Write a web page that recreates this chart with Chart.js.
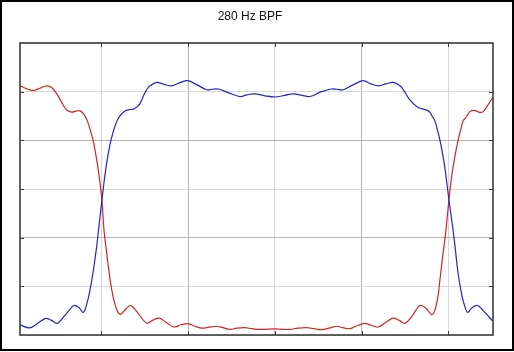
<!DOCTYPE html>
<html>
<head>
<meta charset="utf-8">
<script src="https://cdn.jsdelivr.net/npm/chart.js@4.4.1/dist/chart.umd.min.js"></script>
<style>
  html, body { margin: 0; padding: 0; background: #fff; }
  #box { position: absolute; left: 0; top: 0; width: 514px; height: 351px; border: 2px solid #000; box-sizing: border-box; }
  #box canvas { display: block; }
</style>
</head>
<body>
<div id="box"><canvas id="bpf" width="510" height="347"></canvas></div>
<script>
// frequency axis (Hz) and gain readings for the band-pass output (blue)
const passFreq = [133.2, 138.6, 143.0, 148.0, 151.1, 154.7, 159.1, 164.3, 167.2, 169.7, 171.8, 173.5, 175.3, 177.4, 178.7,
  180.4, 182.7, 185.0, 186.9, 189.1, 190.8, 193.7, 196.0, 198.5, 200.6, 202.3, 204.6, 206.2, 208.1, 211.9, 216.1, 220.6,
  225.4, 229.8, 235.2, 240.7, 243.8, 247.4, 253.6, 259.9, 264.0, 268.6, 274.3, 280.3, 285.8, 290.6, 295.6, 300.2, 306.6,
  312.7, 315.8, 319.4, 325.0, 330.9, 335.4, 339.6, 344.0, 348.2, 352.1, 354.4, 357.8, 361.9, 365.5, 367.6, 369.4, 370.5,
  372.2, 374.0, 375.7, 378.0, 380.3, 382.4, 383.8, 385.5, 387.2, 388.9, 391.1, 393.6, 396.8, 401.0, 405.7];
const passGain = [0.042, 0.029, 0.046, 0.068, 0.061, 0.048, 0.081, 0.121, 0.112, 0.093, 0.131, 0.184, 0.258, 0.365, 0.448,
  0.555, 0.686, 0.781, 0.835, 0.880, 0.901, 0.921, 0.926, 0.928, 0.938, 0.950, 0.987, 1.008, 1.024, 1.038, 1.030, 1.024,
  1.037, 1.045, 1.028, 1.008, 1.010, 1.011, 0.995, 0.980, 0.987, 0.991, 0.983, 0.978, 0.985, 0.991, 0.985, 0.980, 0.999,
  1.011, 1.010, 1.008, 1.028, 1.045, 1.032, 1.024, 1.032, 1.038, 1.024, 1.004, 0.966, 0.938, 0.928, 0.924, 0.915, 0.901,
  0.880, 0.835, 0.781, 0.686, 0.555, 0.448, 0.365, 0.258, 0.184, 0.131, 0.093, 0.112, 0.121, 0.093, 0.056];

// complementary (band-stop) output (red)
const stopFreq = [133.2, 134.8, 137.8, 140.9, 144.7, 148.6, 151.6, 155.1, 158.0, 160.1, 163.0, 165.5, 167.8, 170.1, 172.0,
  173.5, 175.4, 177.0, 178.7, 180.4, 181.6, 183.3, 185.0, 186.9, 189.1, 191.2, 194.3, 197.1, 201.7, 206.2, 209.8, 213.4,
  217.3, 221.9, 225.9, 229.8, 234.0, 238.2, 242.1, 246.5, 250.1, 254.2, 258.2, 262.8, 266.8, 271.4, 276.0, 280.3, 284.7,
  288.7, 293.3, 298.3, 302.5, 307.0, 311.2, 315.6, 319.2, 323.3, 327.3, 331.9, 335.4, 339.6, 344.0, 348.2, 351.5, 355.0,
  359.0, 363.6, 367.1, 370.3, 372.2, 374.0, 375.1, 376.8, 378.6, 380.3, 382.0, 383.8, 385.5, 387.2, 388.5, 390.5, 392.4,
  394.7, 398.2, 400.1, 402.8, 405.7];
const stopGain = [1.023, 1.019, 1.010, 1.005, 1.014, 1.024, 1.016, 0.983, 0.946, 0.925, 0.916, 0.920, 0.921, 0.907, 0.880,
  0.847, 0.798, 0.736, 0.658, 0.555, 0.431, 0.328, 0.233, 0.156, 0.102, 0.085, 0.108, 0.121, 0.085, 0.049, 0.061, 0.069,
  0.052, 0.033, 0.042, 0.047, 0.036, 0.028, 0.032, 0.036, 0.030, 0.023, 0.028, 0.030, 0.026, 0.023, 0.024, 0.025, 0.023,
  0.023, 0.028, 0.030, 0.026, 0.022, 0.028, 0.036, 0.030, 0.026, 0.038, 0.048, 0.040, 0.033, 0.052, 0.069, 0.061, 0.048,
  0.077, 0.121, 0.110, 0.084, 0.102, 0.159, 0.225, 0.328, 0.431, 0.555, 0.658, 0.736, 0.798, 0.847, 0.880, 0.898, 0.918,
  0.923, 0.915, 0.918, 0.946, 0.977];

// grid positions
const freqTicks = [180, 230, 280, 330, 380];
const gainTicks = [0, 0.2, 0.4, 0.6, 0.8, 1.0, 1.2];

function pairUp(xs, ys) {
  return xs.map((x, i) => ({ x: x, y: ys[i] }));
}

// frame and small inward tick marks, like the original plot
const frameTicks = {
  id: 'frameTicks',
  afterDraw(chart) {
    const { ctx, chartArea: a, scales } = chart;
    ctx.save();
    ctx.strokeStyle = '#3a3a3a';
    ctx.lineWidth = 1;
    ctx.beginPath();
    freqTicks.forEach(v => {
      const px = Math.round(scales.x.getPixelForValue(v)) + 0.5;
      ctx.moveTo(px, a.top); ctx.lineTo(px, a.top + 4);
      ctx.moveTo(px, a.bottom); ctx.lineTo(px, a.bottom - 4);
    });
    gainTicks.slice(1, -1).forEach(v => {
      const py = Math.round(scales.y.getPixelForValue(v)) + 0.5;
      ctx.moveTo(a.left, py); ctx.lineTo(a.left + 4, py);
      ctx.moveTo(a.right, py); ctx.lineTo(a.right - 4, py);
    });
    ctx.stroke();
    ctx.lineWidth = 1.6;
    ctx.strokeStyle = '#3c3c3c';
    ctx.strokeRect(a.left, a.top, a.right - a.left, a.bottom - a.top);
    ctx.restore();
  }
};

new Chart(document.getElementById('bpf'), {
  type: 'line',
  data: {
    datasets: [
      {
        label: 'band-pass',
        data: pairUp(passFreq, passGain),
        borderColor: '#2424c8',
        borderWidth: 1.2,
        pointRadius: 0,
        tension: 0.35,
        fill: false
      },
      {
        label: 'band-stop',
        data: pairUp(stopFreq, stopGain),
        borderColor: '#d42424',
        borderWidth: 1.2,
        pointRadius: 0,
        tension: 0.35,
        fill: false
      }
    ]
  },
  options: {
    responsive: false,
    animation: false,
    layout: { padding: { left: 5, right: 19, top: 0, bottom: 14 } },
    plugins: {
      legend: { display: false },
      tooltip: { enabled: false },
      title: {
        display: true,
        text: '280 Hz BPF',
        color: '#111',
        font: { family: 'Liberation Sans, Arial, sans-serif', size: 12, weight: 'normal' },
        padding: { top: 7.5, bottom: 19.1 }
      }
    },
    scales: {
      x: {
        type: 'linear',
        min: 133.2,
        max: 405.7,
        afterBuildTicks: s => { s.ticks = freqTicks.map(v => ({ value: v })); },
        ticks: { display: false },
        border: { display: false },
        grid: {
          drawTicks: false,
          color: c => (c.index % 2 === 1 ? '#b4b4b4' : '#d8d8d8'),
          lineWidth: 1
        }
      },
      y: {
        min: 0,
        max: 1.2,
        afterBuildTicks: s => { s.ticks = gainTicks.map(v => ({ value: v })); },
        afterFit: s => { s.width = 13; },
        ticks: { display: false },
        border: { display: false },
        grid: {
          drawTicks: false,
          color: c => (c.index === 2 || c.index === 4 ? '#b4b4b4' : '#d8d8d8'),
          lineWidth: 1
        }
      }
    }
  },
  plugins: [frameTicks]
});
</script>
</body>
</html>
